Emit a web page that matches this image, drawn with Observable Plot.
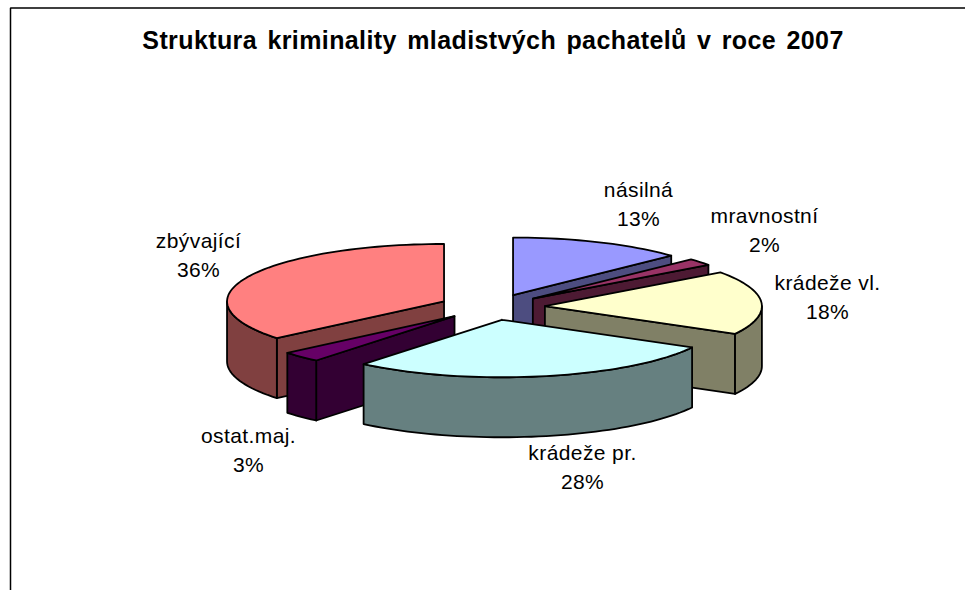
<!DOCTYPE html>
<html>
<head>
<meta charset="utf-8">
<style>html,body{margin:0;padding:0;background:#fff;overflow:hidden}svg{display:block}</style>
<script src="https://cdn.jsdelivr.net/npm/d3@7"></script>
<script src="https://cdn.jsdelivr.net/npm/@observablehq/plot@0.6"></script>
</head>
<body>
<div id="chart"></div>
<script>
const chartTitle = "Struktura kriminality mladistvých pachatelů v roce 2007";
const categories = ["násilná", "mravnostní", "krádeže vl.", "krádeže pr.", "ostat.maj.", "zbývající"];
const shares = [13, 2, 18, 28, 3, 36];
const colors = ["#9999FF", "#993366", "#FFFFCC", "#CCFFFF", "#660066", "#FF8080"];

// Projection of the exploded 3-D pie on the page
const W = 965, H = 590;
const centre = [491.5, 306.5], rx = 217, ry = 57.5, depth = 60, explodeX = 53, explodeY = 13;
const labelAt = [[638, 202], [764, 228], [827, 295], [582, 465], [248, 448], [198, 253]];
const paintOrder = [0, 1, 2, 5, 4, 3];

const total = d3.sum(shares);
const cum = d3.cumsum(shares);
const slices = categories.map((name, i) => {
  const a0 = ((cum[i] - shares[i]) / total) * 2 * Math.PI;
  const a1 = (cum[i] / total) * 2 * Math.PI;
  const mid = (a0 + a1) / 2;
  const ax = centre[0] + explodeX * Math.sin(mid);
  const ay = centre[1] - explodeY * Math.cos(mid);
  const c = d3.rgb(colors[i]);
  return {name, i, a0, a1, ax, ay, color: colors[i],
    wall: d3.rgb(c.r / 2, c.g / 2, c.b / 2).formatHex()};
});

const rim = (s, a) => [s.ax + rx * Math.sin(a), s.ay - ry * Math.cos(a)];
function arc(s, from, to) {
  const n = Math.max(2, Math.ceil((to - from) / (Math.PI / 90)));
  return d3.range(n + 1).map(k => rim(s, from + (to - from) * k / n));
}

const faces = [];
let faceId = 0;
function addFace(points, color) {
  const id = faceId++;
  [...points, points[0]].forEach(([x, y]) => faces.push({x, y, id, color}));
}

for (const idx of paintOrder) {
  const s = slices[idx];
  const apex = [s.ax, s.ay];
  const p0 = rim(s, s.a0), p1 = rim(s, s.a1);
  const drop = ([x, y]) => [x, y + depth];
  // radial walls that face the viewer
  if (Math.sin(s.a1) > 1e-6) addFace([apex, p1, drop(p1), drop(apex)], s.wall);
  if (Math.sin(s.a0) < -1e-6) addFace([apex, p0, drop(p0), drop(apex)], s.wall);
  // visible outer wall
  const lo = Math.max(s.a0, Math.PI / 2), hi = Math.min(s.a1, 3 * Math.PI / 2);
  if (hi > lo) {
    const top = arc(s, lo, hi);
    addFace([...top, ...top.slice().reverse().map(drop)], s.wall);
  }
  // top face
  addFace([apex, ...arc(s, s.a0, s.a1)], s.color);
}

const labels = slices.map((s, i) => ({
  x: labelAt[i][0], y: labelAt[i][1],
  text: `${s.name}\n${shares[i]}%`
}));

const frame = [
  {x: 10, y: H}, {x: 10, y: 7.5}, {x: W, y: 7.5}
];

const chart = Plot.plot({
  width: W, height: H,
  margin: 0,
  x: {domain: [0, W], range: [0, W], axis: null},
  y: {domain: [0, H], range: [0, H], axis: null},
  color: {type: "identity"},
  style: {background: "#fff", fontFamily: "'Liberation Sans', Arial, sans-serif"},
  marks: [
    Plot.line(frame, {x: "x", y: "y", stroke: "#000", strokeWidth: 1.5, strokeLinejoin: "miter"}),
    Plot.line(faces, {x: "x", y: "y", z: "id", fill: "color", stroke: "#000", strokeWidth: 1.8}),
    Plot.text(labels, {x: "x", y: "y", text: "text", fontSize: 21, lineHeight: 1.38, fill: "#000"}),
    Plot.text([chartTitle], {x: () => 492.5, y: () => 40, text: d => d, fontSize: 25, fontWeight: "bold", fill: "#000"})
  ]
});
const textGroups = chart.querySelectorAll('g[aria-label="text"]');
textGroups[0].style.letterSpacing = "0.4px";
textGroups[1].style.letterSpacing = "0.4px";
textGroups[1].style.wordSpacing = "3px";
document.getElementById("chart").append(chart);
</script>
</body>
</html>
